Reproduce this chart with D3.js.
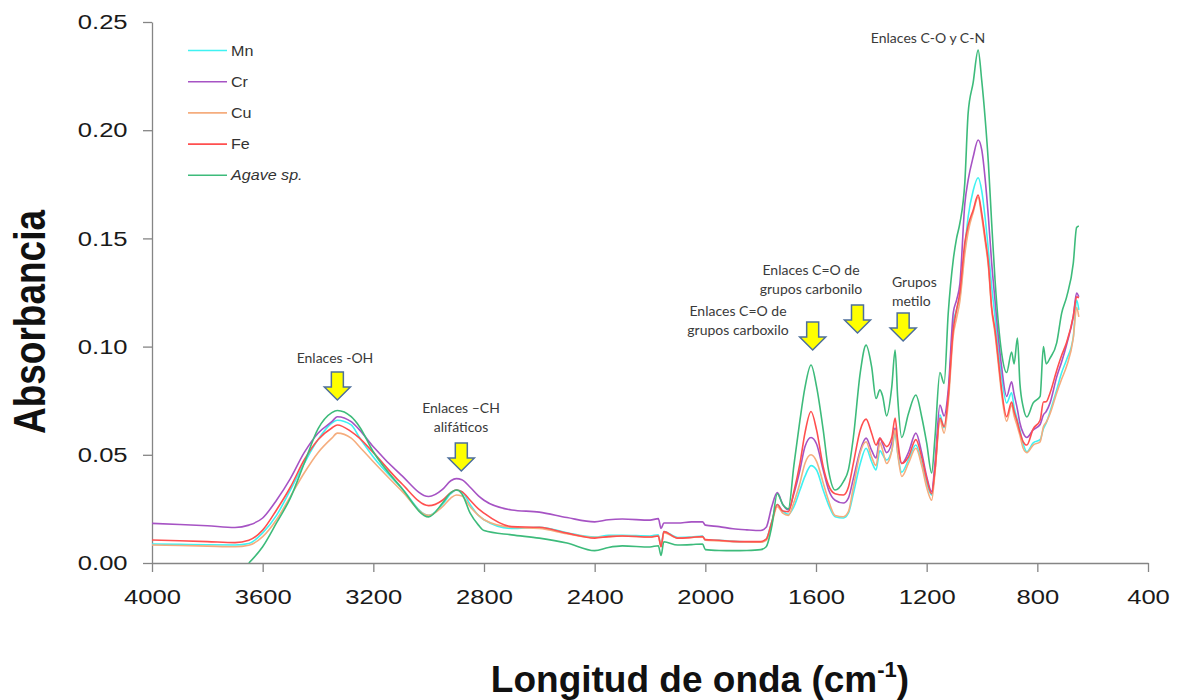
<!DOCTYPE html>
<html>
<head>
<meta charset="utf-8">
<script src="https://cdn.jsdelivr.net/npm/d3@7"></script>
<style>
  body { margin: 0; background: #fff; }
  svg { display: block; }
</style>
</head>
<body>
<script>
// numeri d'onda (cm-1) comuni a tutte le serie
var wavenumbers = [
  4000, 3900, 3800, 3700, 3650, 3600, 3550, 3500, 3450, 3400,
  3350, 3330, 3280, 3250, 3200, 3100, 3000, 2950, 2920, 2900,
  2880, 2850, 2820, 2800, 2700, 2600, 2500, 2400, 2350, 2300,
  2200, 2170, 2160, 2150, 2100, 2050, 2010, 2000, 1950, 1900,
  1850, 1800, 1780, 1760, 1740, 1720, 1700, 1680, 1658, 1640,
  1618, 1598, 1574, 1555, 1531, 1501, 1483, 1465, 1440, 1419,
  1399, 1383, 1369, 1359, 1345, 1326, 1314, 1305, 1290, 1266,
  1239, 1218, 1200, 1182, 1170, 1152, 1137, 1122, 1104, 1092,
  1080, 1062, 1050, 1032, 1014, 1001, 989, 977, 965, 953,
  941, 929, 911, 893, 884, 872, 863, 851, 838, 815,
  790, 778, 768, 754, 730, 712, 694, 670, 658, 650
];

var mn = [
  .0088, .0086, .0084, .0083, .0090, .0139, .022, .0337, .046, .057,
  .0647, .066, .0638, .058, .049, .035, .022, .027, .032, .0337,
  .033, .027, .022, .020, .016, .0165, .014, .012, .0128, .0128,
  .0125, .013, .008, .0145, .0118, .012, .0125, .0105, .0105, .010,
  .0098, .0097, .011, .019, .027, .024, .0225, .026, .0337, .040,
  .045, .043, .0337, .027, .0214, .0208, .023, .032, .046, .053,
  .0468, .043, .052, .050, .0476, .052, .060, .051, .042, .0476,
  .0545, .046, .037, .0314, .043, .0685, .0625, .077, .111, .117,
  .123, .146, .160, .172, .178, .172, .160, .1446, .1277, .1137,
  .098, .086, .074, .0786, .072, .066, .0615, .055, .0514, .0555,
  .057, .062, .0647, .070, .080, .088, .094, .1045, .1215, .117
];

var cr = [
  .0183, .0178, .0172, .0164, .0175, .0208, .029, .039, .051, .060,
  .0653, .0676, .0653, .0615, .0537, .0407, .0307, .034, .038, .039,
  .0385, .035, .031, .029, .0245, .0235, .021, .019, .020, .0203,
  .0198, .0205, .016, .0185, .0185, .019, .019, .0175, .0168, .0158,
  .0153, .015, .0165, .026, .0325, .027, .0245, .032, .043, .0537,
  .058, .055, .043, .034, .029, .0277, .030, .039, .052, .0577,
  .052, .0485, .0577, .055, .051, .0555, .0624, .0537, .046, .051,
  .060, .051, .040, .033, .046, .073, .068, .080, .1155, .1215,
  .129, .166, .177, .1876, .1955, .191, .178, .160, .1386, .1215,
  .1045, .0906, .077, .0837, .078, .071, .0647, .060, .058, .0615,
  .064, .0684, .070, .074, .086, .093, .101, .114, .1248, .123
];

var cu = [
  .0083, .0081, .0078, .0075, .0082, .0122, .020, .0307, .0416, .051,
  .0577, .060, .0577, .0537, .0468, .0337, .022, .026, .030, .0314,
  .031, .026, .022, .020, .0165, .016, .0135, .0118, .0122, .0125,
  .012, .0125, .0075, .014, .0115, .0118, .012, .0105, .0102, .0099,
  .0097, .0096, .0105, .018, .026, .023, .022, .028, .037, .046,
  .050, .047, .037, .029, .022, .0214, .0237, .035, .051, .056,
  .049, .045, .0555, .052, .046, .052, .0615, .051, .040, .046,
  .053, .045, .035, .029, .0416, .066, .060, .074, .105, .113,
  .121, .143, .153, .162, .169, .160, .149, .137, .117, .106,
  .092, .078, .0655, .073, .068, .063, .059, .053, .051, .0545,
  .056, .063, .065, .069, .0786, .085, .091, .104, .118, .1137
];

var fe = [
  .0106, .0103, .0099, .0094, .0105, .0152, .0245, .035, .0476, .057,
  .0624, .0638, .0607, .0577, .051, .037, .0265, .029, .0325, .0337,
  .033, .029, .025, .023, .0168, .0165, .0138, .0115, .0122, .0125,
  .012, .0125, .0075, .0145, .0115, .0118, .0122, .0108, .0105, .010,
  .0099, .0099, .011, .019, .027, .024, .0237, .033, .046, .060,
  .070, .0615, .0445, .036, .032, .0314, .035, .046, .0615, .0665,
  .060, .0545, .0577, .056, .0538, .058, .067, .057, .046, .049,
  .057, .049, .039, .032, .043, .067, .063, .077, .1077, .117,
  .125, .148, .156, .163, .170, .1617, .1506, .1386, .118, .1077,
  .094, .080, .0676, .0744, .070, .065, .0605, .056, .0545, .062,
  .066, .0744, .0745, .0786, .089, .096, .102, .114, .123, .1225
];

var agave = [
  null, null, null, null, 0, .0075, .0185, .030, .046, .062,
  .0695, .0705, .0676, .063, .0514, .035, .0213, .0277, .0325, .0337,
  .032, .023, .0175, .015, .013, .0115, .0092, .0057, .0072, .0079,
  .0074, .008, .0035, .0098, .0083, .0085, .0088, .0062, .0058, .0057,
  .0058, .0062, .0075, .0168, .032, .027, .025, .045, .066, .081,
  .0915, .0815, .0615, .043, .0337, .0376, .043, .058, .088, .1007,
  .0907, .076, .080, .077, .068, .0815, .0984, .077, .058, .069,
  .0776, .0676, .0555, .0416, .058, .088, .083, .1155, .140, .150,
  .157, .176, .208, .222, .237, .223, .206, .185, .157, .131,
  .111, .097, .088, .0975, .092, .104, .083, .072, .0675, .074,
  .077, .100, .092, .0947, .1017, .1155, .123, .1386, .155, .1557
];

var seriesNames = ["Mn", "Cr", "Cu", "Fe", "Agave sp."];
var seriesValues = [mn, cr, cu, fe, agave];
var seriesColors = ["#3ff2f2", "#a653c4", "#f5ad7e", "#ff4f4f", "#3dbb7b"];

var xTicks = [4000, 3600, 3200, 2800, 2400, 2000, 1600, 1200, 800, 400];
var yTicks = [0, 0.05, 0.10, 0.15, 0.20, 0.25];

var W = 1183, H = 700;
var plot = { left: 152, right: 1148, top: 22, bottom: 563 };

var svg = d3.select("body").append("svg")
  .attr("width", W)
  .attr("height", H);

svg.append("rect").attr("width", W).attr("height", H).attr("fill", "#fff");

var x = d3.scaleLinear().domain([4000, 400]).range([plot.left, plot.right]);
var y = d3.scaleLinear().domain([0, 0.25]).range([plot.bottom, plot.top]);

// assi
var xAxis = svg.append("g")
  .attr("transform", "translate(0," + plot.bottom + ")")
  .call(d3.axisBottom(x).tickValues(xTicks).tickFormat(d3.format("d"))
    .tickSize(9).tickSizeOuter(0).tickPadding(17));

var yAxis = svg.append("g")
  .attr("transform", "translate(" + plot.left + ",0)")
  .call(d3.axisLeft(y).tickValues(yTicks).tickFormat(d3.format(".2f"))
    .tickSize(9).tickSizeOuter(0).tickPadding(11));

[xAxis, yAxis].forEach(function (g) {
  g.select(".domain").attr("stroke", "#858585").attr("stroke-width", 1.3);
  g.selectAll(".tick line").attr("stroke", "#858585").attr("stroke-width", 1.3);
  g.selectAll(".tick text")
    .attr("font-family", "'Liberation Sans', Arial, sans-serif")
    .attr("font-size", 21)
    .attr("fill", "#1a1a1a")
    .attr("transform", "scale(1.22,1)");
});

// linee
var clip = svg.append("clipPath").attr("id", "clip")
  .append("rect")
  .attr("x", plot.left).attr("y", plot.top - 5)
  .attr("width", plot.right - plot.left).attr("height", plot.bottom - plot.top + 5);

var line = d3.line()
  .defined(function (d) { return d[1] !== null; })
  .x(function (d) { return x(d[0]); })
  .y(function (d) { return y(d[1]); })
  .curve(d3.curveMonotoneX);

var linesG = svg.append("g").attr("clip-path", "url(#clip)");
seriesValues.forEach(function (vals, i) {
  var pts = wavenumbers.map(function (w, j) { return [w, vals[j]]; });
  linesG.append("path")
    .datum(pts)
    .attr("fill", "none")
    .attr("stroke", seriesColors[i])
    .attr("stroke-width", 1.6)
    .attr("stroke-linejoin", "round")
    .attr("d", line);
});

// legenda
var legend = svg.append("g");
seriesNames.forEach(function (name, i) {
  var ly = 50.5 + i * 31.2;
  legend.append("line")
    .attr("x1", 188).attr("x2", 227)
    .attr("y1", ly).attr("y2", ly)
    .attr("stroke", seriesColors[i]).attr("stroke-width", 1.6);
  legend.append("text")
    .attr("transform", "translate(231," + (ly + 5) + ") scale(1.15,1)")
    .attr("font-family", "'Liberation Sans', Arial, sans-serif")
    .attr("font-size", 14)
    .attr("font-style", i === 4 ? "italic" : "normal")
    .attr("fill", "#333")
    .text(name);
});

// titoli degli assi
svg.append("text")
  .attr("transform", "translate(45,322) scale(1.2,1) rotate(-90)")
  .attr("text-anchor", "middle")
  .attr("font-family", "'Liberation Sans', Arial, sans-serif")
  .attr("font-weight", "bold")
  .attr("font-size", 37)
  .attr("fill", "#111")
  .text("Absorbancia");

var xt = svg.append("text")
  .attr("x", 700).attr("y", 692)
  .attr("text-anchor", "middle")
  .attr("font-family", "'Liberation Sans', Arial, sans-serif")
  .attr("font-weight", "bold")
  .attr("font-size", 37)
  .attr("fill", "#111");
xt.append("tspan").text("Longitud de onda (cm");
xt.append("tspan").attr("font-size", 22).attr("dy", -15).text("-1");
xt.append("tspan").attr("dy", 15).text(")");

// annotazioni con frecce
function arrow(cx, top) {
  var p = "M" + (cx - 6) + "," + top + " L" + (cx + 6) + "," + top +
    " L" + (cx + 6) + "," + (top + 15) + " L" + (cx + 13) + "," + (top + 15) +
    " L" + cx + "," + (top + 28) + " L" + (cx - 13) + "," + (top + 15) +
    " L" + (cx - 6) + "," + (top + 15) + " Z";
  svg.append("path")
    .attr("d", p)
    .attr("fill", "#ffff00")
    .attr("stroke", "#4d6f9c")
    .attr("stroke-width", 1.5)
    .attr("stroke-linejoin", "miter");
}

function label(lines, xPos, yPos, anchor) {
  var t = svg.append("text")
    .attr("font-family", "Lato, 'Open Sans', sans-serif")
    .attr("font-size", 14)
    .attr("fill", "#3a3a3a")
    .attr("text-anchor", anchor || "middle");
  lines.forEach(function (s, i) {
    t.append("tspan").attr("x", xPos).attr("y", yPos + i * 19).text(s);
  });
}

label(["Enlaces C-O y C-N"], 928, 43);
label(["Enlaces C=O de", "grupos carbonilo"], 811, 275);
label(["Grupos", "metilo"], 892, 287, "start");
label(["Enlaces C=O de", "grupos carboxilo"], 738, 316);
label(["Enlaces -OH"], 335, 363);
label(["Enlaces \u2013CH", "alif\u00e1ticos"], 461, 413);

arrow(x(3330), 372);
arrow(x(2882), 443);
arrow(x(1612), 322);
arrow(x(1450), 305);
arrow(x(1285), 313);
</script>
</body>
</html>
